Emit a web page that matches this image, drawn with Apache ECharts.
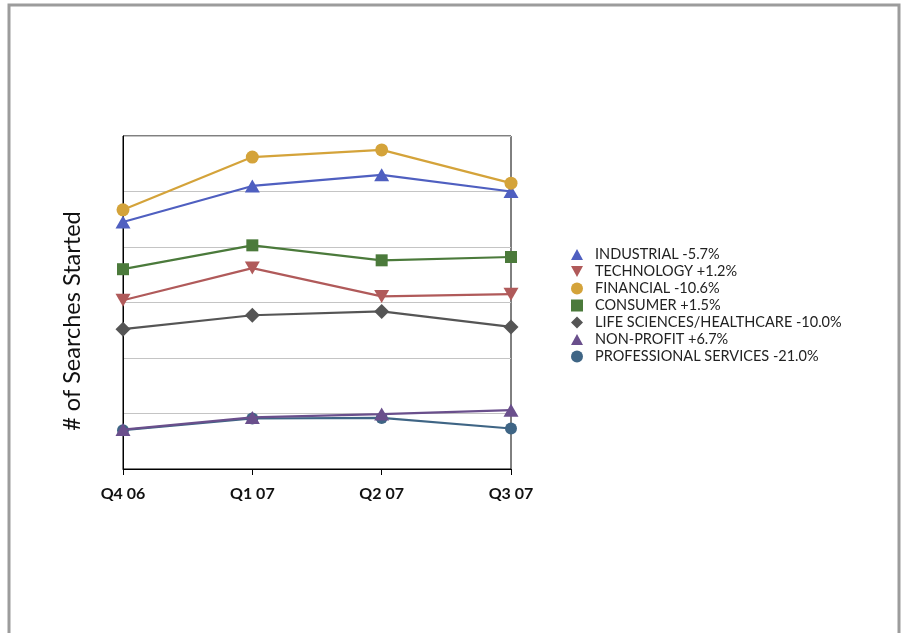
<!DOCTYPE html>
<html>
<head>
<meta charset="utf-8">
<script src="https://cdn.jsdelivr.net/npm/echarts@6/dist/echarts.min.js"></script>
<style>
html,body{margin:0;padding:0;background:#fff;}
#chart{width:902px;height:633px;}
</style>
</head>
<body>
<div id="chart"></div>
<script>
var categories = ['Q4 06', 'Q1 07', 'Q2 07', 'Q3 07'];
var industrial = [4.45, 5.10, 5.30, 5.00];
var technology = [3.04, 3.62, 3.11, 3.15];
var financial = [4.67, 5.62, 5.75, 5.15];
var consumer = [3.60, 4.03, 3.76, 3.82];
var lifeSciences = [2.52, 2.77, 2.84, 2.56];
var nonProfit = [0.71, 0.93, 0.99, 1.06];
var professional = [0.70, 0.91, 0.92, 0.73];
var seriesNames = ['INDUSTRIAL -5.7%', 'TECHNOLOGY +1.2%', 'FINANCIAL -10.6%', 'CONSUMER +1.5%',
  'LIFE SCIENCES/HEALTHCARE -10.0%', 'NON-PROFIT +6.7%', 'PROFESSIONAL SERVICES -21.0%'];
var yAxisTitle = '# of Searches Started';

var downTri = 'path://M0,0 L10,0 L5,9 Z';
var upTri = 'path://M5,0 L10,9 L0,9 Z';
var diamond = 'path://M5,0 L10,5 L5,10 L0,5 Z';
var defs = [
  {data: industrial, color: '#4f5fc0', symbol: upTri, size: [15, 13], z: 3},
  {data: technology, color: '#b05a5a', symbol: downTri, size: [15, 13], z: 3},
  {data: financial, color: '#d4a33a', symbol: 'circle', size: 13, z: 3},
  {data: consumer, color: '#4b7a3b', symbol: 'rect', size: 12, z: 3},
  {data: lifeSciences, color: '#555555', symbol: diamond, size: 15, z: 3},
  {data: nonProfit, color: '#6a4f8c', symbol: upTri, size: [15, 13], z: 4},
  {data: professional, color: '#3f6585', symbol: 'circle', size: 12, z: 3}
];
var legendIcons = [upTri, downTri, 'circle', 'rect', diamond, upTri, 'circle'];

var chart = echarts.init(document.getElementById('chart'));
chart.setOption({
  animation: false,
  backgroundColor: '#fff',
  graphic: [
    {type: 'rect', shape: {x: 9, y: 5, width: 890, height: 650},
     style: {fill: 'none', stroke: '#9c9c9c', lineWidth: 3}},
    {type: 'text', x: 72, y: 321, rotation: Math.PI / 2,
     style: {text: yAxisTitle, font: '23.5px Lato', fill: '#111', textAlign: 'center', textVerticalAlign: 'middle'}}
  ],
  legend: {
    orient: 'vertical', left: 571, top: 247, padding: 0, itemGap: 2, itemWidth: 12, itemHeight: 12,
    textStyle: {fontFamily: 'Lato', fontSize: 14.5, lineHeight: 12, color: '#222', padding: [0, 0, 0, 7]},
    data: seriesNames.map(function (n, i) { return {name: n, icon: legendIcons[i]}; })
  },
  grid: {left: 123, right: 391, top: 136, bottom: 164, show: true, borderColor: '#000', borderWidth: 1},
  xAxis: {
    type: 'category', data: categories, boundaryGap: false,
    axisLine: {lineStyle: {color: '#000', width: 1}},
    axisTick: {length: 6, lineStyle: {color: '#000'}},
    axisLabel: {fontFamily: 'Lato', fontSize: 16, fontWeight: 'bold', color: '#111', margin: 17}
  },
  yAxis: {
    type: 'value', min: 0, max: 6, interval: 1,
    axisLine: {show: true, lineStyle: {color: '#000', width: 1}},
    axisTick: {show: false}, axisLabel: {show: false},
    splitLine: {lineStyle: {color: '#c4c4c4', width: 1}}
  },
  series: defs.map(function (d, i) {
    return {
      name: seriesNames[i], type: 'line', data: d.data, z: d.z,
      symbol: d.symbol, symbolSize: d.size, showSymbol: true,
      itemStyle: {color: d.color}, lineStyle: {color: d.color, width: 2.2}
    };
  })
});
</script>
</body>
</html>
